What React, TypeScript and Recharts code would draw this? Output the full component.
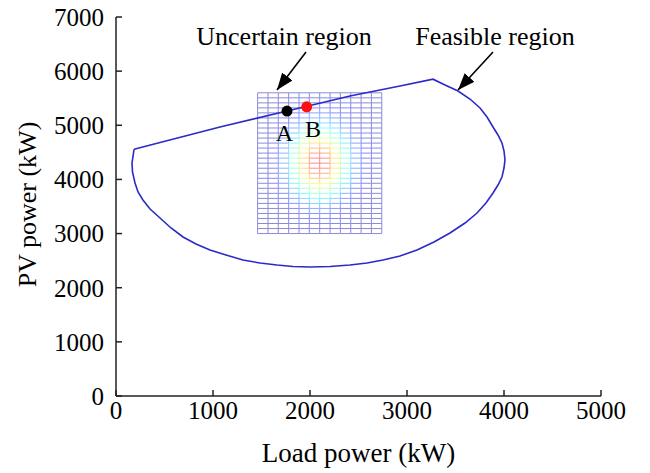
import {
  ScatterChart,
  Scatter,
  XAxis,
  YAxis,
  ReferenceLine,
  ReferenceDot,
  Label,
} from "recharts";

const FONT = "Liberation Serif, Times New Roman, serif";

const X_TICKS = [0, 1000, 2000, 3000, 4000, 5000];
const Y_TICKS = [0, 1000, 2000, 3000, 4000, 5000, 6000, 7000];

// feasible region boundary, traced clockwise from the left corner (kW)
const BOUNDARY_LOAD = [
  186, 1072, 1763, 2412, 2928, 3268, 3392, 3526, 3649, 3753, 3825, 3887, 3938,
  3979, 4000, 4010, 4000, 3979, 3938, 3887, 3814, 3722, 3598, 3443, 3278, 3103,
  2928, 2753, 2588, 2412, 2206, 2000, 1825, 1660, 1485, 1309, 1134, 969, 825,
  691, 567, 454, 351, 278, 227, 196, 170, 165, 186,
];
const BOUNDARY_PV = [
  4556, 4969, 5265, 5542, 5727, 5852, 5744, 5633, 5485, 5319, 5153, 4968, 4821,
  4673, 4525, 4359, 4211, 4045, 3897, 3749, 3565, 3380, 3195, 3011, 2844, 2697,
  2586, 2512, 2456, 2419, 2392, 2383, 2392, 2419, 2456, 2512, 2604, 2697, 2807,
  2937, 3103, 3288, 3454, 3620, 3768, 3934, 4137, 4303, 4556,
];

// mesh nodes of the uncertain region (kW)
const MESH_LOAD = [
  1460, 1567, 1673, 1780, 1887, 1993, 2100, 2207, 2313, 2420, 2527, 2633, 2740,
];
const MESH_PV = [
  3000, 3093, 3186, 3279, 3371, 3464, 3557, 3650, 3743, 3836, 3929, 4021, 4114,
  4207, 4300, 4393, 4486, 4579, 4671, 4764, 4857, 4950, 5043, 5136, 5229, 5321,
  5414, 5507, 5600,
];

// operating points A and B
const POINT_A = { x: 1763, y: 5262 };
const POINT_B = { x: 1966, y: 5342 };

const boundaryData = BOUNDARY_LOAD.map((x, i) => ({ x, y: BOUNDARY_PV[i] }));

// jet colormap, washed out toward white like the original mesh edges
function meshColor(x: number, y: number): string {
  const dx = (x - 2093) / 215;
  const dy = (y - 4320) / 480;
  const v = 0.04 + 0.86 * Math.exp(-(dx * dx + dy * dy) / 2);
  const c = (t: number) => Math.max(0, Math.min(1, 1.5 - Math.abs(4 * v - t)));
  const a = 0.46;
  const mix = (t: number) => Math.round(255 * (c(t) * a + (1 - a)));
  return `rgb(${mix(3)},${mix(2)},${mix(1)})`;
}

type Seg = { x1: number; y1: number; x2: number; y2: number };
const meshSegs: Seg[] = [];
MESH_LOAD.forEach((x) => {
  for (let j = 0; j < MESH_PV.length - 1; j++) {
    meshSegs.push({ x1: x, y1: MESH_PV[j], x2: x, y2: MESH_PV[j + 1] });
  }
});
MESH_PV.forEach((y) => {
  for (let i = 0; i < MESH_LOAD.length - 1; i++) {
    meshSegs.push({ x1: MESH_LOAD[i], y1: y, x2: MESH_LOAD[i + 1], y2: y });
  }
});

const tickStyle = { fontSize: 25, fontFamily: FONT, fill: "#000" };
const axisStroke = { stroke: "#222", strokeWidth: 1.5 };

const renderNothing = () => <g />;

const arrowShape = (p: any) => (
  <line
    x1={p.x1}
    y1={p.y1}
    x2={p.x2}
    y2={p.y2}
    stroke="#000"
    strokeWidth={1.6}
    markerEnd="url(#arrowHead)"
  />
);

const YTitle = ({ viewBox }: any) => {
  const cx = viewBox.x + 20;
  const cy = viewBox.y + viewBox.height / 2 - 2;
  return (
    <text
      x={cx}
      y={cy}
      transform={`rotate(-90 ${cx} ${cy})`}
      textAnchor="middle"
      fontSize={26}
      fontFamily={FONT}
      fill="#000"
    >
      PV power (kW)
    </text>
  );
};

export default function App() {
  return (
    <div style={{ position: "absolute", left: 0, top: 0, background: "#fff" }}>
      <svg width={0} height={0} style={{ position: "absolute" }}>
        <defs>
          <marker
            id="arrowHead"
            viewBox="0 0 17 13"
            refX={17}
            refY={6.5}
            markerWidth={17}
            markerHeight={13}
            markerUnits="userSpaceOnUse"
            orient="auto"
          >
            <path d="M0,0 L17,6.5 L0,13 z" fill="#000" />
          </marker>
        </defs>
      </svg>
      <ScatterChart
        width={650}
        height={473}
        margin={{ top: 17, right: 49, bottom: 17, left: 16 }}
      >
        <XAxis
          type="number"
          dataKey="x"
          domain={[0, 5000]}
          ticks={X_TICKS}
          height={60}
          tickSize={-6}
          tickMargin={11}
          tick={tickStyle}
          axisLine={axisStroke}
          tickLine={axisStroke}
          allowDataOverflow
        >
          <Label
            value="Load power (kW)"
            position="insideBottom"
            offset={-6}
            fontSize={27}
            fontFamily={FONT}
            fill="#000"
          />
        </XAxis>
        <YAxis
          type="number"
          dataKey="y"
          domain={[0, 7000]}
          ticks={Y_TICKS}
          width={100}
          tickSize={-6}
          tickMargin={18}
          tick={tickStyle}
          axisLine={axisStroke}
          tickLine={axisStroke}
          allowDataOverflow
          label={{ content: YTitle }}
        />

        {meshSegs.map((s, k) => (
          <ReferenceLine
            key={`m${k}`}
            segment={[
              { x: s.x1, y: s.y1 },
              { x: s.x2, y: s.y2 },
            ]}
            stroke={meshColor((s.x1 + s.x2) / 2, (s.y1 + s.y2) / 2)}
            strokeWidth={1}
          />
        ))}

        <Scatter
          data={boundaryData}
          line={{ stroke: "#2a2ac8", strokeWidth: 1.6 }}
          lineType="joint"
          shape={renderNothing}
          isAnimationActive={false}
        />

        <ReferenceDot
          x={POINT_A.x}
          y={POINT_A.y}
          r={5.5}
          fill="#000"
          stroke="none"
        />
        <ReferenceDot
          x={POINT_B.x}
          y={POINT_B.y}
          r={5.5}
          fill="#ff1010"
          stroke="none"
        />
        <ReferenceDot
          x={1737}
          y={4872}
          r={0}
          fill="none"
          stroke="none"
          label={{ value: "A", position: "center", fontSize: 24, fontFamily: FONT, fill: "#000" }}
        />
        <ReferenceDot
          x={2031}
          y={4946}
          r={0}
          fill="none"
          stroke="none"
          label={{ value: "B", position: "center", fontSize: 24, fontFamily: FONT, fill: "#000" }}
        />

        <ReferenceLine
          segment={[
            { x: 1959, y: 6354 },
            { x: 1660, y: 5652 },
          ]}
          shape={arrowShape}
        />
        <ReferenceLine
          segment={[
            { x: 3887, y: 6354 },
            { x: 3526, y: 5652 },
          ]}
          shape={arrowShape}
        />
        <ReferenceDot
          x={1732}
          y={6649}
          r={0}
          fill="none"
          stroke="none"
          label={{ value: "Uncertain region", position: "center", fontSize: 26, fontFamily: FONT, fill: "#000" }}
        />
        <ReferenceDot
          x={3907}
          y={6649}
          r={0}
          fill="none"
          stroke="none"
          label={{ value: "Feasible region", position: "center", fontSize: 26, fontFamily: FONT, fill: "#000" }}
        />
      </ScatterChart>
    </div>
  );
}
